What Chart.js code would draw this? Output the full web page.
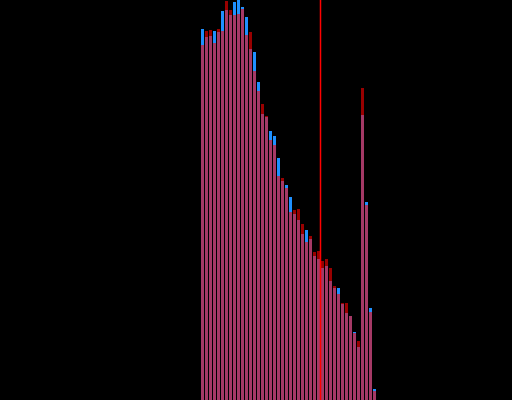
<!DOCTYPE html>
<html>
<head>
<meta charset="utf-8">
<script src="https://cdn.jsdelivr.net/npm/chart.js@4"></script>
<style>
  html, body { margin: 0; padding: 0; background: #000; overflow: hidden; }
  canvas { display: block; }
</style>
</head>
<body>
<canvas id="chart" width="512" height="400"></canvas>
<script>
// histogram bins (left edges), two overlapping series, one marker line
const binEdges = [
  50, 51, 52, 53, 54, 55, 56, 57, 58, 59, 60, 61, 62, 63, 64, 65, 66, 67, 68, 69, 70, 71,
  72, 73, 74, 75, 76, 77, 78, 79, 80, 81, 82, 83, 84, 85, 86, 87, 88, 89, 90, 91, 92, 93,
];
const BIN_WIDTH = 1;

const blueCounts = [
  371, 363, 364, 369, 368, 389, 390, 385, 398, 404, 393, 383, 351, 348, 318, 286, 283, 269, 264, 242, 219, 215,
  203, 186, 180, 166, 170, 161, 144, 141, 132, 134, 119, 112, 112, 96, 87, 84, 68, 53, 285, 198, 92, 11,
];
const redCounts = [
  355, 369, 370, 357, 371, 369, 399, 390, 385, 386, 391, 365, 368, 329, 309, 296, 284, 260, 255, 224, 222, 212,
  188, 190, 191, 176, 158, 164, 148, 149, 139, 141, 132, 114, 106, 97, 97, 84, 67, 59, 312, 195, 88, 9,
];
const markerX = 80;

const X_MIN = -0.125;
const X_MAX = 127.875;
const Y_MAX = 400;

const toPoints = (counts) => counts.map((c, i) => ({ x: binEdges[i] + BIN_WIDTH / 2, y: c }));

const barBase = {
  type: 'bar',
  grouped: false,
  barThickness: 3,
  borderWidth: 0,
  inflateAmount: 0,
  borderSkipped: false,
};

new Chart(document.getElementById('chart'), {
  data: {
    datasets: [
      {
        ...barBase,
        label: 'blue',
        data: toPoints(blueCounts),
        backgroundColor: '#1E90FF',
        order: 3,
      },
      {
        ...barBase,
        label: 'red',
        data: toPoints(redCounts),
        backgroundColor: 'rgba(255,0,0,0.6)',
        order: 2,
      },
      {
        type: 'line',
        label: 'marker',
        data: [{ x: markerX, y: 0 }, { x: markerX, y: Y_MAX }],
        borderColor: '#FF0000',
        borderWidth: 1.5,
        pointRadius: 0,
        order: 1,
      },
    ],
  },
  options: {
    responsive: false,
    animation: false,
    events: [],
    layout: { padding: 0 },
    scales: {
      x: { type: 'linear', min: X_MIN, max: X_MAX, offset: false, display: false },
      y: { min: 0, max: Y_MAX, display: false },
    },
    plugins: {
      legend: { display: false },
      tooltip: { enabled: false },
    },
  },
});
</script>
</body>
</html>
